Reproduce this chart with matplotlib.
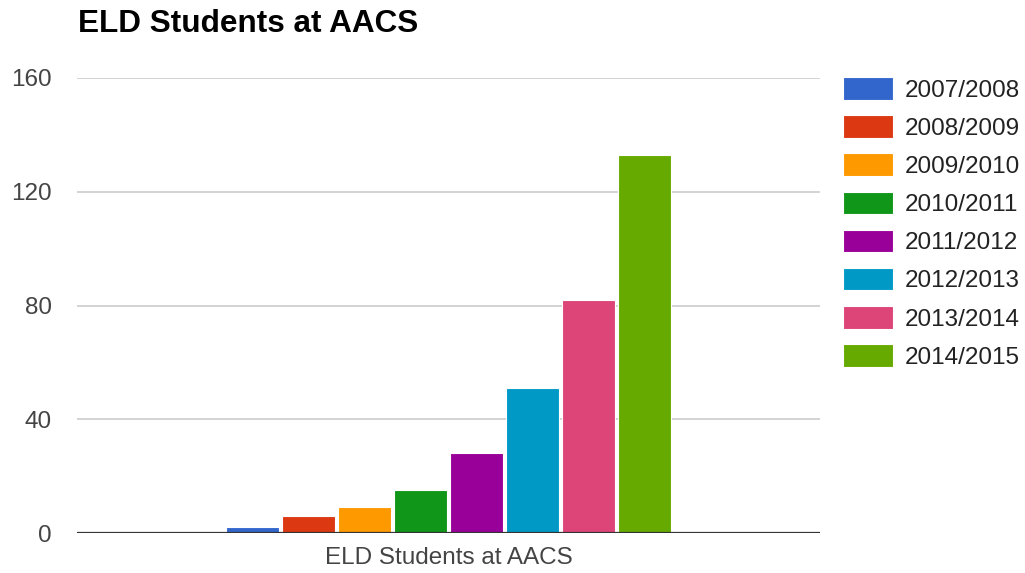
import matplotlib
matplotlib.use("Agg")
import matplotlib.pyplot as plt
import numpy as np

plt.rcParams['font.family'] = ['Liberation Sans', 'DejaVu Sans']

title = "ELD Students at AACS"
category = "ELD Students at AACS"
years = ["2007/2008", "2008/2009", "2009/2010", "2010/2011",
         "2011/2012", "2012/2013", "2013/2014", "2014/2015"]
students = [2, 6, 9, 15, 28, 51, 82, 133]
colors = ["#3366cc", "#dc3912", "#ff9900", "#109618",
          "#990099", "#0099c6", "#dd4477", "#66aa00"]
yticks = [0, 40, 80, 120, 160]

fig = plt.figure(figsize=(10.25, 5.73), dpi=100)
ax = fig.add_axes([77/1025, 1 - 533/573, (820 - 77)/1025, (533 - 78)/573])

n = len(students)
offsets = np.arange(n) - (n - 1) / 2
for off, val, col, lab in zip(offsets, students, colors, years):
    ax.bar(off, val, width=0.95, color=col, edgecolor='white', linewidth=0.8,
           label=lab, zorder=3)

ax.set_xlim(-6.63, 6.63)
ax.set_ylim(0, 160)
ax.set_yticks(yticks)
ax.set_yticklabels([str(t) for t in yticks])
ax.yaxis.grid(True, color='#cccccc', linewidth=1.2, zorder=0)
ax.axhline(0, color='#333333', linewidth=1.6, zorder=4)
ax.set_xticks([0])
ax.set_xticklabels([category])
ax.tick_params(axis='both', length=0, labelsize=17.5, colors='#444444')
ax.tick_params(axis='y', pad=18)
ax.tick_params(axis='x', pad=10)
for s in ax.spines.values():
    s.set_visible(False)

fig.text(78/1025, 1 - 24/573, title, fontsize=22.7, fontweight='bold',
         color='black', ha='left', va='center')

leg = fig.legend(loc='upper left', bbox_to_anchor=(843/1025, 1 - 77/573),
                 frameon=False, fontsize=17.5, handlelength=2.05,
                 handleheight=1.05, handletextpad=0.5, labelspacing=0.56,
                 borderpad=0, borderaxespad=0)
for t in leg.get_texts():
    t.set_color('#222222')

fig.savefig("out.png", dpi=100)
